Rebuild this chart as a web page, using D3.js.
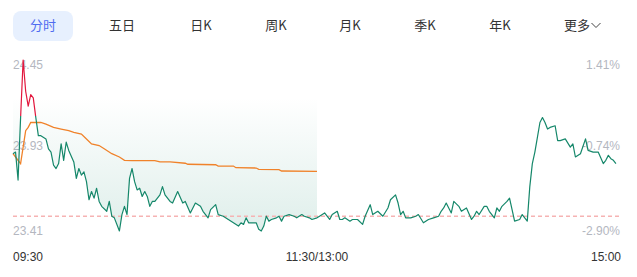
<!DOCTYPE html>
<html>
<head>
<meta charset="utf-8">
<script src="https://cdn.jsdelivr.net/npm/d3@7"></script>
<style>
  body { margin: 0; background: #fff; }
  svg { display: block; }
</style>
</head>
<body>
<div id="chart"></div>
<script>
// tabs on top
const tabs = ["分时", "五日", "日K", "周K", "月K", "季K", "年K", "更多"];
const tabX = [43, 122, 201, 276, 350, 425, 500, 577];

// minutes since 09:30 (0..240, lunch break removed) and price
const priceMin = [0, 1, 2, 3, 4, 5, 6, 7, 8, 9, 10, 11, 13, 14, 15, 16, 17, 18, 19, 20,
  21, 22, 24, 25, 26, 27, 28, 29, 30, 31, 32, 33, 34, 35, 37, 38, 39, 40, 42, 43,
  44, 45, 46, 47, 48, 49, 50, 51, 52, 53, 54, 55, 56, 58, 59, 60, 62, 63, 65, 67,
  68, 70, 72, 74, 75, 77, 78, 80, 81, 83, 85, 87, 89, 90, 91, 92, 93, 96, 97, 98,
  99, 100, 101, 102, 104, 105, 106, 107, 109, 111, 112, 114, 115, 117, 118, 120, 121, 123, 124, 125,
  126, 128, 129, 130, 131, 133, 134, 136, 138, 139, 141, 142, 144, 146, 148, 149, 151, 152, 153, 154,
  155, 157, 159, 160, 162, 164, 166, 168, 169, 170, 171, 173, 174, 176, 177, 179, 181, 182, 183, 184,
  186, 187, 188, 190, 191, 192, 193, 195, 196, 197, 198, 200, 201, 203, 204, 205, 206, 207, 208, 209,
  210, 211, 212, 214, 215, 216, 218, 220, 221, 222, 224, 226, 227, 229, 231, 233, 234, 235, 236, 237, 238];
const price = [23.88, 23.89, 23.72, 24.10, 24.45, 24.26, 24.17, 24.24, 24.22, 24.10, 23.99, 23.99, 23.97, 23.91, 23.89, 23.81, 23.79, 23.82, 23.94, 23.84,
  23.95, 23.90, 23.83, 23.73, 23.79, 23.75, 23.77, 23.71, 23.60, 23.65, 23.61, 23.67, 23.59, 23.56, 23.53, 23.59, 23.50, 23.49, 23.41, 23.51,
  23.56, 23.51, 23.73, 23.79, 23.71, 23.66, 23.67, 23.62, 23.65, 23.62, 23.56, 23.59, 23.59, 23.63, 23.68, 23.63, 23.59, 23.58, 23.65, 23.58,
  23.59, 23.52, 23.58, 23.56, 23.53, 23.49, 23.54, 23.57, 23.51, 23.50, 23.48, 23.46, 23.44, 23.46, 23.45, 23.49, 23.46, 23.46, 23.42, 23.41,
  23.44, 23.50, 23.47, 23.48, 23.49, 23.50, 23.47, 23.50, 23.51, 23.50, 23.49, 23.51, 23.50, 23.49, 23.48, 23.49, 23.50, 23.52, 23.50, 23.48,
  23.51, 23.53, 23.48, 23.48, 23.49, 23.47, 23.48, 23.48, 23.45, 23.50, 23.57, 23.51, 23.53, 23.50, 23.55, 23.60, 23.63, 23.58, 23.51, 23.53,
  23.49, 23.49, 23.50, 23.51, 23.46, 23.48, 23.49, 23.50, 23.53, 23.55, 23.58, 23.52, 23.59, 23.56, 23.53, 23.55, 23.48, 23.50, 23.53, 23.51,
  23.56, 23.56, 23.53, 23.49, 23.55, 23.53, 23.56, 23.59, 23.61, 23.54, 23.47, 23.48, 23.51, 23.47, 23.68, 23.82, 23.89, 23.98, 24.07, 24.10,
  24.07, 24.03, 24.04, 24.05, 23.96, 23.96, 23.97, 23.92, 23.94, 23.86, 23.88, 23.97, 23.90, 23.89, 23.89, 23.82, 23.84, 23.87, 23.85, 23.84, 23.82];

// average price line (morning only)
const avgMin = [0, 1, 3, 5, 6, 7, 11, 13, 16, 19, 22, 24, 27, 29, 31, 34, 36, 39, 42, 44,
  47, 56, 58, 62, 68, 69, 80, 81, 87, 88, 96, 97, 105, 106, 120];
const avgPrice = [23.88, 23.86, 23.82, 24.02, 24.04, 24.07, 24.07, 24.06, 24.04, 24.03, 24.02, 24.01, 24.00, 23.97, 23.94, 23.93, 23.91, 23.88, 23.86, 23.84,
  23.838, 23.838, 23.83, 23.83, 23.822, 23.816, 23.813, 23.805, 23.805, 23.795, 23.793, 23.785, 23.783, 23.775, 23.773];

const preClose = 24.11;
const refLine = 23.5;
const priceTicks = [24.45, 23.93, 23.41];
const pctTicks = ["1.41%", "-0.74%", "-2.90%"];
const timeTicks = [0, 120, 240];
const timeLabels = ["09:30", "11:30/13:00", "15:00"];

const width = 637;
const height = 277;
const plotLeft = 13;
const plotRight = 621;
const plotTop = 60;
const plotBottom = 231;

const svg = d3
  .select("#chart")
  .append("svg")
  .attr("width", width)
  .attr("height", height)
  .style("font-family", "'Liberation Sans', Arial, 'Noto Sans CJK SC', sans-serif");

// tab bar
svg
  .append("rect")
  .attr("x", 13)
  .attr("y", 11)
  .attr("width", 60)
  .attr("height", 30)
  .attr("rx", 8)
  .attr("fill", "#e7f0fe");

svg
  .append("g")
  .selectAll("text")
  .data(tabs)
  .enter()
  .append("text")
  .attr("x", (d, i) => tabX[i])
  .attr("y", 30)
  .attr("text-anchor", "middle")
  .attr("font-size", 13)
  .attr("font-family", "'Noto Sans CJK SC', sans-serif")
  .attr("fill", (d, i) => (i == 0 ? "#4f6cf0" : "#333"))
  .text((d) => d);

// chevron after 更多
svg
  .append("path")
  .attr("d", "M591.5,23 L596,27.5 L600.5,23")
  .attr("fill", "none")
  .attr("stroke", "#444")
  .attr("stroke-width", 1);

const x = d3.scaleLinear().domain([0, 240]).range([plotLeft, plotRight]);
const y = d3.scaleLinear().domain([23.41, 24.45]).range([plotBottom, plotTop]);

const pts = priceMin.map((m, i) => ({ m: m, p: price[i] }));
const avgPts = avgMin.map((m, i) => ({ m: m, p: avgPrice[i] }));

// axis labels (drawn under the lines)
const labels = svg.append("g").attr("font-size", 12).attr("fill", "#b4b7bf");
const offs = [9, 4.5, 3.5];
labels
  .selectAll(".pl")
  .data(priceTicks)
  .enter()
  .append("text")
  .attr("x", plotLeft)
  .attr("y", (d, i) => y(d) + offs[i])
  .text((d) => d.toFixed(2));
labels
  .selectAll(".pc")
  .data(pctTicks)
  .enter()
  .append("text")
  .attr("x", plotRight - 1)
  .attr("y", (d, i) => y(priceTicks[i]) + offs[i])
  .attr("text-anchor", "end")
  .text((d) => d);

svg
  .append("g")
  .attr("font-size", 12)
  .attr("fill", "#333")
  .selectAll("text")
  .data(timeTicks)
  .enter()
  .append("text")
  .attr("x", (d) => x(d))
  .attr("y", 261)
  .attr("text-anchor", (d, i) => (i == 0 ? "start" : i == 2 ? "end" : "middle"))
  .text((d, i) => timeLabels[i]);

// gradient fill for morning session
const defs = svg.append("defs");
const grad = defs
  .append("linearGradient")
  .attr("id", "fillGrad")
  .attr("gradientUnits", "userSpaceOnUse")
  .attr("x1", 0)
  .attr("y1", plotTop)
  .attr("x2", 0)
  .attr("y2", plotBottom);
grad.append("stop").attr("offset", "0.22").attr("stop-color", "#1a8a6e").attr("stop-opacity", 0);
grad.append("stop").attr("offset", "1").attr("stop-color", "#1a8a6e").attr("stop-opacity", 0.14);

const area = d3
  .area()
  .x((d) => x(d.m))
  .y0(plotTop)
  .y1((d) => y(d.p));

svg
  .append("path")
  .datum(pts.filter((d) => d.m <= 120))
  .attr("d", area)
  .attr("fill", "url(#fillGrad)");

// dashed reference line
svg
  .append("line")
  .attr("x1", plotLeft)
  .attr("x2", plotRight)
  .attr("y1", y(refLine))
  .attr("y2", y(refLine))
  .attr("stroke", "#f6b3b3")
  .attr("stroke-width", 1.5)
  .attr("stroke-dasharray", "4,3");

// clip above / below previous close
defs
  .append("clipPath")
  .attr("id", "up")
  .append("rect")
  .attr("x", 0)
  .attr("y", 0)
  .attr("width", width)
  .attr("height", y(preClose));
defs
  .append("clipPath")
  .attr("id", "down")
  .append("rect")
  .attr("x", 0)
  .attr("y", y(preClose))
  .attr("width", width)
  .attr("height", height);

const line = d3
  .line()
  .x((d) => x(d.m))
  .y((d) => y(d.p));

svg
  .append("path")
  .datum(avgPts)
  .attr("d", line)
  .attr("fill", "none")
  .attr("stroke", "#f0822a")
  .attr("stroke-width", 1.3);

svg
  .append("path")
  .datum(pts)
  .attr("d", line)
  .attr("fill", "none")
  .attr("stroke", "#15876a")
  .attr("stroke-width", 1.2)
  .attr("stroke-linejoin", "round")
  .attr("clip-path", "url(#down)");

svg
  .append("path")
  .datum(pts)
  .attr("d", line)
  .attr("fill", "none")
  .attr("stroke", "#e2173d")
  .attr("stroke-width", 1.2)
  .attr("stroke-linejoin", "round")
  .attr("clip-path", "url(#up)");
</script>
</body>
</html>
